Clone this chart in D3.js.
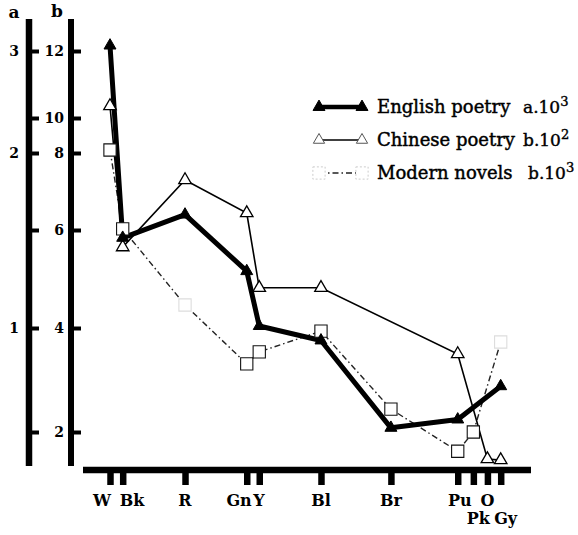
<!DOCTYPE html>
<html>
<head>
<meta charset="utf-8">
<script src="https://cdn.jsdelivr.net/npm/d3@7/dist/d3.min.js"></script>
<style>
  html, body { margin: 0; padding: 0; background: #fff; }
  svg { display: block; }
  text { font-family: "DejaVu Serif", serif; fill: #000; }
</style>
</head>
<body>
<svg id="chart" width="578" height="535"></svg>
<script>
// ---------- DATA ----------
const categories = ["W", "Bk", "R", "Gn", "Y", "Bl", "Br", "Pu", "Pk", "O", "Gy"];
// position of each colour term along the horizontal axis (0..100)
const categoryPos = [0, 3.25, 19.2, 35, 38.2, 54, 71.9, 89, 93, 96.6, 100];

// English poetry, read on axis a (x10^3)
const englishPoetry = [3.04, 1.46, 1.60, 1.29, 1.01, 0.94, 0.52, 0.56, null, null, 0.72];
// Chinese poetry, read on axis b (x10^2)
const chinesePoetry = [10.36, 5.65, 7.30, 6.44, 4.82, 4.82, null, 3.50, null, 1.48, 1.46];
// Modern novels, read on axis b (x10^3)
const modernNovels = [8.17, 6.03, 4.47, 3.31, 3.54, 3.94, 2.44, 1.63, 2.00, null, 3.73];
// novel markers that are barely printed in the original
const novelsFaint = ["R", "Gy"];

const aTicks = [0.5, 1, 1.5, 2, 2.5, 3];
const aTickLabels = ["", "1", "", "2", "", "3"];
const bTicks = [2, 4, 6, 8, 10, 12];
const bTickLabels = ["2", "4", "6", "8", "10", "12"];

const legendNames = ["English poetry", "Chinese poetry", "Modern novels"];
const legendUnits = [["a.10", "3"], ["b.10", "2"], ["b.10", "3"]];

// ---------- LAYOUT ----------
const svg = d3.select("#chart");

// the printed b axis is not evenly graduated: piecewise linear calibration
const y = d3.scaleLinear()
  .domain([0, 2, 4, 6, 8, 10, 12, 14])
  .range([536, 432, 328, 230, 153, 118, 51, -17]);
const yA = v => y(v * 4);   // axis a shares graduations with b (a = b/4)

const x = d3.scaleLinear().domain([0, 100]).range([110, 500.7]);

const axisA_X = 29, axisB_X = 71, axisTop = 19, axisBottom = 466;
const xAxisY = 470;

// vertical axes
[[axisA_X, 6.5], [axisB_X, 6]].forEach(([ax, w]) => {
  svg.append("line").attr("x1", ax).attr("x2", ax)
    .attr("y1", axisTop).attr("y2", axisBottom)
    .attr("stroke", "#000").attr("stroke-width", w);
});

// axis a ticks (right side)
const gA = svg.append("g").attr("transform", `translate(${axisA_X + 3},0)`)
  .call(d3.axisRight(y).tickValues(aTicks.map(v => v * 4)).tickSize(7).tickSizeOuter(0).tickFormat(""));
gA.select(".domain").remove();
gA.selectAll(".tick line").attr("stroke", "#000").attr("stroke-width", 4);
svg.append("g").selectAll("text").data(aTicks).join("text")
  .attr("x", 19).attr("y", d => yA(d)).attr("dy", "0.36em")
  .attr("text-anchor", "end").attr("font-size", 14).attr("font-weight", "bold")
  .text((d, i) => aTickLabels[i]);

// axis b ticks
const gB = svg.append("g").attr("transform", `translate(${axisB_X + 3},0)`)
  .call(d3.axisRight(y).tickValues(bTicks).tickSize(7).tickSizeOuter(0).tickFormat(""));
gB.select(".domain").remove();
gB.selectAll(".tick line").attr("stroke", "#000").attr("stroke-width", 4);
svg.append("g").selectAll("text").data(bTicks).join("text")
  .attr("x", 64).attr("y", d => y(d)).attr("dy", "0.36em")
  .attr("text-anchor", "end").attr("font-size", 14).attr("font-weight", "bold")
  .text((d, i) => bTickLabels[i]);

// axis titles
svg.append("text").attr("x", 14).attr("y", 18).attr("text-anchor", "middle")
  .attr("font-size", 17).attr("font-weight", "bold").text("a");
svg.append("text").attr("x", 57).attr("y", 17).attr("text-anchor", "middle")
  .attr("font-size", 17).attr("font-weight", "bold").text("b");

// horizontal axis
svg.append("line").attr("x1", 83).attr("x2", 531).attr("y1", xAxisY).attr("y2", xAxisY)
  .attr("stroke", "#000").attr("stroke-width", 6.5);
const gX = svg.append("g").attr("transform", `translate(0,${xAxisY})`)
  .call(d3.axisBottom(x).tickValues(categoryPos).tickSize(15).tickSizeOuter(0).tickFormat(""));
gX.select(".domain").remove();
gX.selectAll(".tick line").attr("stroke", "#000").attr("stroke-width", 6.5);

const labelStyle = {
  W: { anchor: "end", dx: 1, row: 0 }, Bk: { anchor: "start", dx: -3, row: 0 },
  Gn: { anchor: "end", dx: 5, row: 0 }, Y: { anchor: "start", dx: -6, row: 0 },
  Pu: { anchor: "middle", dx: 2, row: 0 }, Pk: { anchor: "middle", dx: 5, row: 1 },
  O: { anchor: "middle", dx: 0, row: 0 }, Gy: { anchor: "middle", dx: 5, row: 1 }
};
svg.append("g").selectAll("text").data(categories).join("text")
  .attr("x", (d, i) => x(categoryPos[i]) + ((labelStyle[d] || {}).dx || 0))
  .attr("y", d => ((labelStyle[d] || {}).row ? 524 : 506))
  .attr("text-anchor", d => (labelStyle[d] || {}).anchor || "middle")
  .attr("font-size", 16).attr("font-weight", "bold")
  .text(d => d);

// ---------- SERIES ----------
const pts = (vals, fy) => vals.map((v, i) => v == null ? null : { c: categories[i], x: x(categoryPos[i]), y: fy(v) })
  .filter(p => p);
const engPts = pts(englishPoetry, yA);
const chiPts = pts(chinesePoetry, y);
const novPts = pts(modernNovels, y);
const line = d3.line().x(d => d.x).y(d => d.y);

const novelDash = "6,3,1.5,3";

svg.append("path").attr("d", line(novPts)).attr("fill", "none")
  .attr("stroke", "#222").attr("stroke-width", 1.4).attr("stroke-dasharray", novelDash);
svg.append("path").attr("d", line(chiPts)).attr("fill", "none")
  .attr("stroke", "#000").attr("stroke-width", 1.6);
svg.append("path").attr("d", line(engPts)).attr("fill", "none")
  .attr("stroke", "#000").attr("stroke-width", 5).attr("stroke-linejoin", "round");

const tri = d3.symbol().type(d3.symbolTriangle);
const sq = d3.symbol().type(d3.symbolSquare).size(150);

svg.append("g").selectAll("path").data(novPts).join("path")
  .attr("transform", d => `translate(${d.x},${d.y})`).attr("d", sq())
  .attr("fill", "#fff")
  .attr("stroke", d => novelsFaint.includes(d.c) ? "#ddd" : "#111")
  .attr("stroke-width", 1.1);
svg.append("g").selectAll("path").data(chiPts).join("path")
  .attr("transform", d => `translate(${d.x},${d.y})`).attr("d", tri.size(68)())
  .attr("fill", "#fff").attr("stroke", "#000").attr("stroke-width", 1.3);
svg.append("g").selectAll("path").data(engPts).join("path")
  .attr("transform", d => `translate(${d.x},${d.y})`).attr("d", tri.size(62)())
  .attr("fill", "#000").attr("stroke", "#000").attr("stroke-width", 1);

// ---------- LEGEND ----------
const legY = [107, 140, 173];
const lx1 = 319, lx2 = 362;
// English
svg.append("line").attr("x1", lx1).attr("x2", lx2).attr("y1", legY[0]).attr("y2", legY[0])
  .attr("stroke", "#000").attr("stroke-width", 4.5);
[lx1, lx2].forEach(px => svg.append("path").attr("transform", `translate(${px},${legY[0]})`)
  .attr("d", tri.size(62)()).attr("fill", "#000").attr("stroke", "#000"));
// Chinese
svg.append("line").attr("x1", lx1).attr("x2", lx2).attr("y1", legY[1]).attr("y2", legY[1])
  .attr("stroke", "#000").attr("stroke-width", 1.6);
[lx1, lx2].forEach(px => svg.append("path").attr("transform", `translate(${px},${legY[1]})`)
  .attr("d", tri.size(55)()).attr("fill", "#fff").attr("stroke", "#555").attr("stroke-width", 1));
// Novels
svg.append("line").attr("x1", lx1).attr("x2", lx2).attr("y1", legY[2]).attr("y2", legY[2])
  .attr("stroke", "#222").attr("stroke-width", 1.4).attr("stroke-dasharray", novelDash);
[lx1, lx2].forEach(px => svg.append("path").attr("transform", `translate(${px},${legY[2]})`)
  .attr("d", sq()).attr("fill", "#fff").attr("stroke", "#ccc").attr("stroke-width", 1).attr("stroke-dasharray", "2,2"));

legendNames.forEach((name, i) => {
  svg.append("text").attr("x", 377).attr("y", legY[i] + 6)
    .attr("font-size", 18).attr("stroke", "#000").attr("stroke-width", 0.45)
    .text(name);
  const t = svg.append("text").attr("x", i === 2 ? 528 : 523).attr("y", legY[i] + 6)
    .attr("font-size", 17).attr("stroke", "#000").attr("stroke-width", 0.4);
  t.append("tspan").text(legendUnits[i][0]);
  t.append("tspan").attr("dy", -7).attr("font-size", 13).text(legendUnits[i][1]);
});
</script>
</body>
</html>
